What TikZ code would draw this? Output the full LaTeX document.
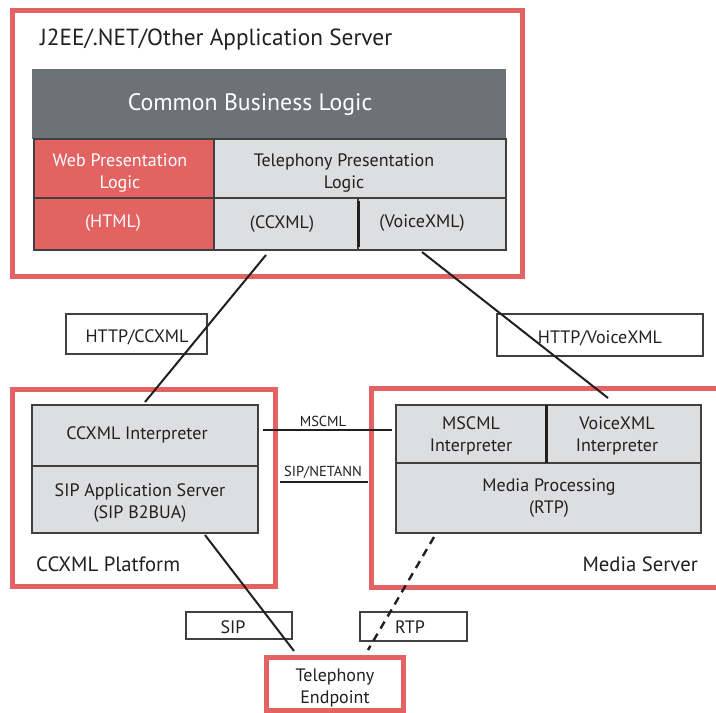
\documentclass[tikz,border=0pt]{standalone}
\usepackage{fontspec}
\setmainfont{PT Sans}
\usetikzlibrary{calc}

\definecolor{frame}{RGB}{227,99,99}
\definecolor{darkbar}{RGB}{108,114,120}
\definecolor{cellgray}{RGB}{221,222,224}
\definecolor{edge}{RGB}{64,64,64}
\definecolor{ink}{RGB}{35,31,32}

\tikzset{
  box/.style={anchor=north west, inner sep=0pt, outer sep=0pt},
  redframe/.style={box, draw=frame, line width=5pt},
  cell/.style={box, draw=edge, line width=1.2pt, fill=cellgray},
  redcell/.style={box, draw=edge, line width=1.2pt, fill=frame},
  tagbox/.style={box, draw=edge, line width=1.2pt, fill=white},
  txt/.style={inner sep=0pt, text=ink, align=center, font=\fontsize{18}{22}\selectfont},
  wtxt/.style={txt, text=white},
  small/.style={inner sep=0pt, text=ink, font=\fontsize{14.5}{16}\selectfont},
  caption/.style={inner sep=0pt, text=ink, font=\fontsize{20.7}{24}\selectfont},
  wire/.style={draw=ink, line width=2pt},
  divider/.style={draw=ink, line width=3pt},
}

\begin{document}
\begin{tikzpicture}[x=1pt, y=-1pt]
\clip (0,0) rectangle (716,713);
\fill[white] (0,0) rectangle (716,713);

% --- outer red frames
\node[redframe, minimum width=509.5pt, minimum height=266pt] (appsrv)   at (12.5,10)  {};
\node[redframe, minimum width=263pt,   minimum height=197pt] (ccxplat)  at (12.5,389) {};
\node[redframe, minimum width=360pt,   minimum height=199pt] (mediasrv) at (371.5,388) {};
\node[redframe, minimum width=137pt,   minimum height=53pt]  (endpt)    at (266,657)  {};

% --- application server stack
\node[box, fill=darkbar, minimum width=474pt, minimum height=70pt] (biz) at (32,69) {};
\node[redcell, minimum width=180pt, minimum height=59pt] (web)    at (34,139)  {};
\node[cell,    minimum width=292pt, minimum height=59pt] (telpres) at (214,139) {};
\node[redcell, minimum width=180pt, minimum height=52pt] (html)   at (34,198)  {};
\node[cell,    minimum width=144pt, minimum height=52pt] (ccxml)  at (214,198) {};
\node[cell,    minimum width=148pt, minimum height=52pt] (vxml)   at (358,198) {};
\draw[divider] ([yshift=-3pt]ccxml.north east) -- ([yshift=3pt]ccxml.south east);

% --- CCXML platform stack
\node[cell, minimum width=226pt, minimum height=61pt] (ccxint) at (32,405) {};
\node[cell, minimum width=226pt, minimum height=67pt] (sipas)  at (32,466) {};

% --- media server stack
\node[cell, minimum width=150pt, minimum height=58pt] (mscint)    at (396,405) {};
\node[cell, minimum width=155pt, minimum height=58pt] (vxint)     at (546,405) {};
\node[cell, minimum width=305pt, minimum height=70pt] (mediaproc) at (396,463) {};
\draw[divider] (mscint.north east) -- (mscint.south east);

% --- protocol tags
\node[tagbox, minimum width=141pt, minimum height=40pt] (tagccxml) at (66,314)  {};
\node[tagbox, minimum width=206pt, minimum height=42pt] (tagvxml)  at (497,314) {};
\node[tagbox, minimum width=106pt, minimum height=27pt] (tagsip)   at (186,612) {};
\node[tagbox, minimum width=107pt, minimum height=29pt] (tagrtp)   at (360,612) {};

% --- texts
\node[inner sep=0pt, text=ink, anchor=base west, font=\fontsize{23.3}{27}\selectfont] (ttitle) at (40,45) {J2EE/.NET/Other Application Server};
\node[inner sep=0pt, text=white, font=\fontsize{23.8}{28}\selectfont] (tbiz) at (250,105) {Common Business Logic};
\node[wtxt] (tweb)  at (120,173) {Web Presentation\\Logic};
\node[wtxt] (thtml) at (113,223) {(HTML)};
\node[txt]  (ttel)  at (344,173) {Telephony Presentation\\Logic};
\node[txt]  (tccx)  at (282,224) {(CCXML)};
\node[txt]  (tvxml) at (422,223) {(VoiceXML)};
\node[txt]  (tccxint) at (137,435) {CCXML Interpreter};
\node[txt]  (tsipas)  at (140,503) {SIP Application Server\\(SIP B2BUA)};
\node[txt]  (tmsc)    at (471,436) {MSCML\\Interpreter};
\node[txt]  (tvxi)    at (617,436) {VoiceXML\\Interpreter};
\node[txt]  (tmp)     at (549,498) {Media Processing\\(RTP)};
\node[caption, anchor=base west] (tplat)  at (36,571)  {CCXML Platform};
\node[caption, anchor=base east] (tmedia) at (698,571) {Media Server};
\node[txt]  (tendpt)  at (335,688) {Telephony\\Endpoint};
\node[txt]  (ttagccxml) at (137,337) {HTTP/CCXML};
\node[txt]  (ttagvxml)  at (600,338) {HTTP/VoiceXML};
\node[txt]  (ttagsip)   at (233,627) {SIP};
\node[txt]  (ttagrtp)   at (410,627) {RTP};
\node[small] (tmscml)  at (323,421) {MSCML};
\node[small] (tnetann) at (323,472) {SIP/NETANN};

% --- connector end points
\coordinate (ccxmlout)  at ($(ccxml.south west)+(52,5)$);
\coordinate (ccxintin)  at ($(ccxint.north west)+(113,-3)$);
\coordinate (vxmlout)   at ($(vxml.south west)+(64,2)$);
\coordinate (vxintin)   at ($(vxint.north west)+(62,-7)$);
\coordinate (mscmlfrom) at ($(ccxint.north east)+(5,25)$);
\coordinate (mscmlto)   at ($(mscint.north west)+(-4,25)$);
\coordinate (netannfrom) at ($(ccxplat.north east)+(4.5,93)$);
\coordinate (netannto)  at ($(mediasrv.north west)+(-3.5,94)$);
\coordinate (sipfrom)   at ($(sipas.south west)+(173,2)$);
\coordinate (sipto)     at ($(endpt.north west)+(28,-6)$);
\coordinate (rtpfrom)   at ($(mediaproc.south west)+(38,4)$);
\coordinate (rtpto)     at ($(endpt.north west)+(102,-7)$);

% --- connectors
\draw[wire] (ccxmlout) -- (ccxintin);
\draw[wire] (vxmlout) -- (vxintin);
\draw[wire] (mscmlfrom) -- (mscmlto);
\draw[wire] (netannfrom) -- (netannto);
\draw[wire] (sipfrom) -- (sipto);
\draw[wire, line width=2.4pt, dash pattern=on 8pt off 6pt] (rtpfrom) -- (rtpto);
\end{tikzpicture}
\end{document}
